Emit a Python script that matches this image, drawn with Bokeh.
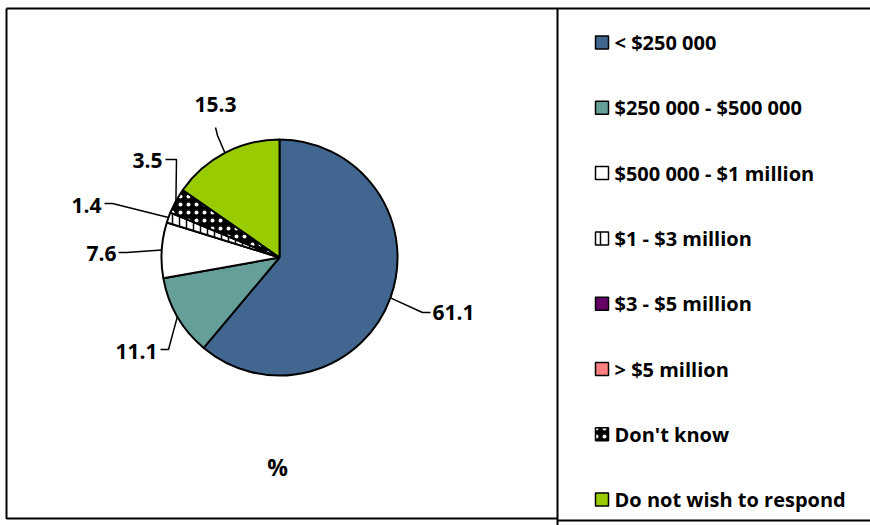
import numpy as np
from bokeh.plotting import figure
from bokeh.models import Range1d, ColumnDataSource
from bokeh.core.properties import value
from bokeh.embed import file_html
from bokeh.resources import INLINE

# ---------------- data ----------------
categories = ["< $250 000", "$250 000 - $500 000", "$500 000 - $1 million",
              "$1 - $3 million", "$3 - $5 million", "> $5 million",
              "Don't know", "Do not wish to respond"]
percent = [61.1, 11.1, 7.6, 1.4, 0.0, 0.0, 3.5, 15.3]
chart_label = "%"

# ---------------- styles ----------------
fill_colors = ["#41668F", "#669E9A", "#FFFFFF", "#FFFFFF", "#660066", "#FF8080", "#000000", "#99CC00"]
hatch_patterns = [" ", " ", " ", "vertical_line", " ", " ", "dot", " "]
hatch_colors = ["black", "black", "black", "black", "black", "black", "white", "black"]
pie_hatch_scale = [7, 7, 7, 7, 7, 7, 8, 7]
leg_hatch_scale = [7, 7, 7, 11, 7, 7, 8, 7]
FONT = value("Open Sans")

W, H = 870, 525

def Y(py):  # page pixel y -> data y
    return H - py

p = figure(width=W, height=H, output_backend="svg", toolbar_location=None,
           x_range=Range1d(0, W), y_range=Range1d(0, H),
           x_axis_location=None, y_axis_location=None, min_border=0)
p.outline_line_color = None
p.grid.visible = False
p.background_fill_color = "white"
p.border_fill_color = "white"

# ---------------- frames ----------------
LW = 2
p.line([6, 6, 557], [Y(8), Y(518), Y(518)], line_color="black", line_width=LW)
p.line([6, 870], [Y(8), Y(8)], line_color="black", line_width=LW)
p.line([557, 870], [Y(520), Y(520)], line_color="black", line_width=LW)
p.line([557, 557], [Y(8), Y(525)], line_color="black", line_width=LW)

# ---------------- pie ----------------
cx, cy, r = 279, 257, 118
vals = np.array(percent)
cum = np.concatenate([[0], np.cumsum(vals)]) / vals.sum()
start = np.pi / 2 - 2 * np.pi * cum[:-1]
end = np.pi / 2 - 2 * np.pi * cum[1:]
nz = vals > 0
sel = lambda seq: [s for s, k in zip(seq, nz) if k]
src = ColumnDataSource(dict(
    start=start[nz], end=end[nz],
    fill=sel(fill_colors), hatch=sel(hatch_patterns), hcol=sel(hatch_colors),
    hscale=sel(pie_hatch_scale),
))
p.wedge(x=cx, y=Y(cy), radius=r, start_angle="start", end_angle="end", direction="clock",
        fill_color="fill", hatch_pattern="hatch", hatch_color="hcol", hatch_scale="hscale",
        hatch_weight=1.5, line_color="black", line_width=2, source=src)

# ---------------- data labels with leader lines ----------------
# layout per non-zero slice: (elbow x, elbow y, stub x, stub y, text x, text y, align)
label_layout = [
    (422, 312, 430, 312, 432, 312, "left"),
    (168, 349, 160, 349, 157, 351, "right"),
    (126, 252, 118, 252, 116, 253, "right"),
    (112, 203, 104, 203, 101, 205, "right"),
    (176, 159, 165, 159, 162, 160, "right"),
    (217, 135, 215, 127, 215, 104, "center"),
]
mid = (cum[:-1] + cum[1:]) / 2
nz_idx = [i for i in range(len(vals)) if vals[i] > 0]
for k, i in enumerate(nz_idx):
    ex, ey, sx, sy, tx, ty, al = label_layout[k]
    a = 2 * np.pi * mid[i]
    px = cx + r * np.sin(a)
    py = cy - r * np.cos(a)
    p.line([px, ex, sx], [Y(py), Y(ey), Y(sy)], line_color="black", line_width=1.5)
    p.text(x=[tx], y=[Y(ty)], text=[f"{vals[i]:.1f}"], text_font=FONT, text_font_style="bold",
           text_font_size="21px", text_align=al, text_baseline="middle", text_color="black")

p.text(x=[277], y=[Y(466)], text=[chart_label], text_font=FONT, text_font_style="bold",
       text_font_size="23px", text_align="center", text_baseline="middle", text_color="black")

# ---------------- legend ----------------
leg_y0, leg_dy = 42, 65.3
ly = [Y(leg_y0 + leg_dy * i) for i in range(len(categories))]
p.rect(x=[601.5] * len(categories), y=ly, width=13, height=13, fill_color=fill_colors,
       hatch_pattern=hatch_patterns, hatch_color=hatch_colors, hatch_scale=leg_hatch_scale,
       hatch_weight=1.5, line_color="black", line_width=1.5)
p.text(x=[614] * len(categories), y=ly, text=categories, text_font=FONT, text_font_style="bold",
       text_font_size="20px", text_align="left", text_baseline="middle", text_color="black")

open("out.html", "w").write(file_html(p, INLINE))
